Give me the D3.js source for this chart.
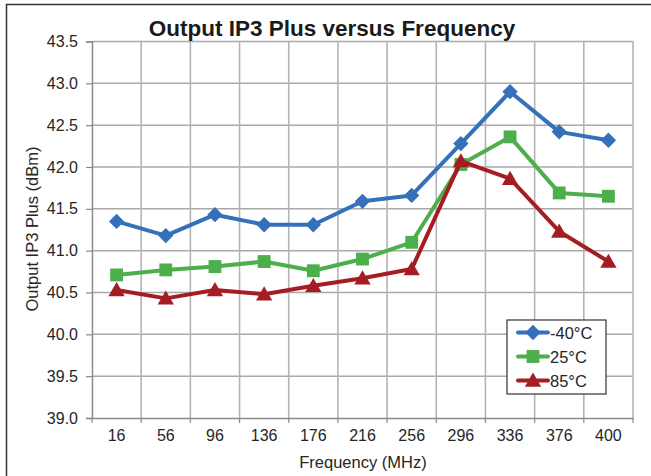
<!DOCTYPE html>
<html>
<head>
<meta charset="utf-8">
<script src="https://cdn.jsdelivr.net/npm/d3@7"></script>
<style>
  html, body { margin: 0; padding: 0; background: #fff; }
  svg { display: block; font-family: "Liberation Sans", Arial, sans-serif; }
</style>
</head>
<body>
<svg id="chart" width="651" height="476"></svg>
<script>
// Frequency points (MHz) and measured output IP3 (dBm) per temperature
const frequencies = ["16", "56", "96", "136", "176", "216", "256", "296", "336", "376", "400"];
const ip3Minus40 = [41.35, 41.18, 41.43, 41.31, 41.31, 41.59, 41.66, 42.28, 42.90, 42.42, 42.32];
const ip3Plus25  = [40.71, 40.77, 40.81, 40.87, 40.76, 40.90, 41.10, 42.03, 42.36, 41.69, 41.65];
const ip3Plus85  = [40.53, 40.43, 40.53, 40.48, 40.58, 40.67, 40.78, 42.07, 41.86, 41.23, 40.87];
const yTicks = [39.0, 39.5, 40.0, 40.5, 41.0, 41.5, 42.0, 42.5, 43.0, 43.5];
const seriesNames = ["-40°C", "25°C", "85°C"];

const series = [
  { name: seriesNames[0], values: ip3Minus40, color: "#3571ba", symbol: d3.symbolDiamond2, size: 150, dy: 0 },
  { name: seriesNames[1], values: ip3Plus25,  color: "#4caf4c", symbol: d3.symbolSquare,   size: 165, dy: 0 },
  { name: seriesNames[2], values: ip3Plus85,  color: "#a51d22", symbol: d3.symbolTriangle, size: 115, dy: 1.5 }
];

const svg = d3.select("#chart");
const plot = { left: 92, right: 633, top: 41.5, bottom: 418 };

const x = d3.scaleBand().domain(frequencies).range([plot.left, plot.right]).padding(0);
const y = d3.scaleLinear().domain([39, 43.5]).range([plot.bottom, plot.top]);

// outer frame
svg.append("path")
  .attr("d", `M6.5,476 V4.5 H651`)
  .attr("fill", "none").attr("stroke", "#333").attr("stroke-width", 1.5);

// horizontal gridlines
svg.append("g").selectAll("line")
  .data(yTicks.slice(1))
  .join("line")
  .attr("x1", plot.left).attr("x2", plot.right)
  .attr("y1", d => y(d)).attr("y2", d => y(d))
  .attr("stroke", "#a9a9a9").attr("stroke-width", 1.5);

// vertical gridlines at category boundaries
const boundaries = frequencies.map(f => x(f) + x.bandwidth());
svg.append("g").selectAll("line")
  .data(boundaries)
  .join("line")
  .attr("x1", d => d).attr("x2", d => d)
  .attr("y1", plot.top).attr("y2", plot.bottom)
  .attr("stroke", "#b4b4b4").attr("stroke-width", 1.6);

// y axis
const yAxis = d3.axisLeft(y).tickValues(yTicks).tickFormat(d3.format(".1f")).tickSize(6).tickPadding(8);
const gy = svg.append("g").attr("transform", `translate(${plot.left},0)`).call(yAxis);
gy.select(".domain").attr("stroke", "#8a8a8a").attr("stroke-width", 1.5);
gy.selectAll(".tick line").attr("stroke", "#8a8a8a").attr("stroke-width", 1.2);
gy.selectAll(".tick text").attr("font-size", 16).attr("fill", "#262626")
  .attr("font-family", "Liberation Sans, Arial, sans-serif");

// x axis
const xAxis = d3.axisBottom(x).tickSize(0).tickPadding(12);
const gx = svg.append("g").attr("transform", `translate(0,${plot.bottom})`).call(xAxis);
gx.select(".domain").attr("stroke", "#8a8a8a").attr("stroke-width", 1.5);
gx.selectAll(".tick text").attr("font-size", 16).attr("fill", "#262626")
  .attr("font-family", "Liberation Sans, Arial, sans-serif");
// x tick marks at category boundaries
svg.append("g").selectAll("line")
  .data([plot.left, ...boundaries])
  .join("line")
  .attr("x1", d => d).attr("x2", d => d)
  .attr("y1", plot.bottom).attr("y2", plot.bottom + 5)
  .attr("stroke", "#8a8a8a").attr("stroke-width", 1.2);

// series lines and markers
const line = d3.line()
  .x((d, i) => x(frequencies[i]) + x.bandwidth() / 2)
  .y(d => y(d));

series.forEach(s => {
  const g = svg.append("g");
  g.append("path")
    .attr("d", line(s.values))
    .attr("fill", "none").attr("stroke", s.color)
    .attr("stroke-width", 4).attr("stroke-linejoin", "round");
  g.selectAll("path.mark")
    .data(s.values)
    .join("path")
    .attr("class", "mark")
    .attr("d", d3.symbol().type(s.symbol).size(s.size))
    .attr("transform", (d, i) => `translate(${x(frequencies[i]) + x.bandwidth() / 2},${y(d) + s.dy})`)
    .attr("fill", s.color);
});

// title
svg.append("text")
  .attr("x", 332).attr("y", 36)
  .attr("text-anchor", "middle")
  .attr("font-size", 22.5).attr("font-weight", "bold").attr("fill", "#1a1a1a")
  .text("Output IP3 Plus versus Frequency");

// axis titles
svg.append("text")
  .attr("x", 363).attr("y", 468)
  .attr("text-anchor", "middle")
  .attr("font-size", 16.5).attr("fill", "#262626")
  .text("Frequency (MHz)");

svg.append("text")
  .attr("transform", "translate(38,229) rotate(-90)")
  .attr("text-anchor", "middle")
  .attr("font-size", 16.5).attr("fill", "#262626")
  .text("Output IP3 Plus (dBm)");

// legend
const legend = svg.append("g").attr("transform", "translate(507,320)");
legend.append("rect")
  .attr("x", 0).attr("y", 0).attr("width", 99).attr("height", 74)
  .attr("fill", "#fff").attr("stroke", "#333").attr("stroke-width", 1.2);
series.forEach((s, i) => {
  const row = legend.append("g").attr("transform", `translate(0,${12.5 + i * 24})`);
  row.append("line")
    .attr("x1", 11).attr("x2", 41).attr("y1", 0).attr("y2", 0)
    .attr("stroke", s.color).attr("stroke-width", 4).attr("stroke-linecap", "round");
  row.append("path")
    .attr("d", d3.symbol().type(s.symbol).size(s.size))
    .attr("transform", `translate(26,${s.dy})`)
    .attr("fill", s.color);
  row.append("text")
    .attr("x", 43).attr("y", 6)
    .attr("font-size", 16.5).attr("fill", "#262626")
    .text(s.name);
});
</script>
</body>
</html>
